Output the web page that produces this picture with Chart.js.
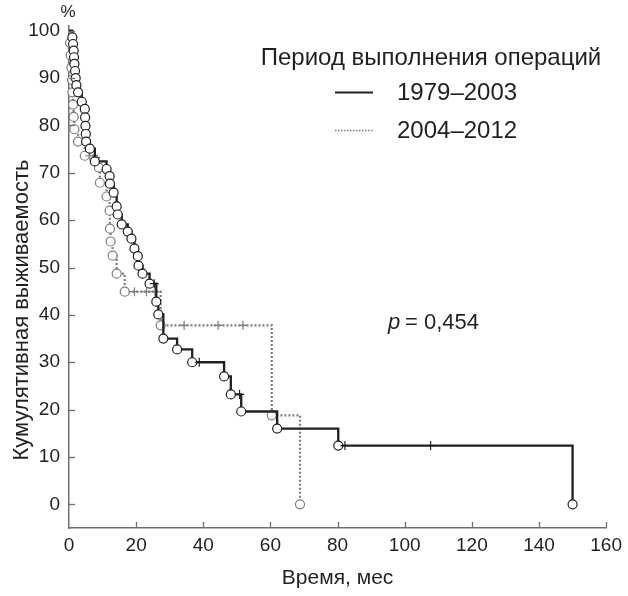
<!DOCTYPE html>
<html><head><meta charset="utf-8">
<script src="https://cdn.jsdelivr.net/npm/chart.js@4.4.1/dist/chart.umd.min.js"></script>
<style>html,body{margin:0;padding:0;background:#fff}#wrap{width:628px;height:596px;position:relative}</style>
</head><body><div id="wrap"><canvas id="c" width="628" height="596"></canvas></div>
<script>
// ---- data ----
const xTicks = [0, 20, 40, 60, 80, 100, 120, 140, 160];
const yTicks = [0, 10, 20, 30, 40, 50, 60, 70, 80, 90, 100];

const seriesNames = ['1979–2003', '2004–2012'];
const legendTitle = 'Период выполнения операций';
const yTitle = 'Кумулятивная выживаемость';
const xTitle = 'Время, мес';
const pText = '= 0,454';

// 1979–2003: event times (months) and survival (%) after each event
const solidT = [0, 1.0, 1.2, 1.4, 1.5, 1.6, 1.8, 2.0, 2.2, 2.7, 3.8, 4.7, 4.8, 4.9, 5.0, 5.1, 6.2, 7.7, 11.2, 12.1, 12.2, 13.3, 14.2, 14.5, 15.7, 17.5, 18.6, 19.5, 20.5, 20.7, 21.9, 24.0, 26.0, 26.6, 28.1, 32.2, 36.7, 46.2, 48.2, 51.3, 62.0, 80.2, 150];
const solidS = [100, 98.6, 97.2, 95.8, 94.4, 93.0, 91.5, 90.0, 88.5, 87.0, 85.0, 83.5, 81.7, 79.9, 78.2, 76.6, 75.1, 72.4, 70.8, 69.3, 67.7, 65.8, 62.9, 61.2, 59.1, 57.6, 56.1, 54.0, 52.4, 50.4, 48.7, 46.6, 42.8, 40.1, 35.0, 32.7, 30.0, 27.0, 23.2, 19.6, 16.0, 12.4, 0];
const solidCensT = [25.4, 38.8, 50.8, 82.2, 107.7];
const solidCensS = [46.6, 30.0, 23.2, 12.4, 12.4];

// 2004–2012
const greyT = [0, 0.3, 0.5, 0.7, 0.9, 1.0, 1.2, 1.4, 1.6, 2.7, 4.7, 8.9, 9.2, 11.2, 12.1, 12.2, 12.4, 13.0, 14.2, 16.6, 27.3, 60.4, 68.8];
const greyS = [100, 97.4, 94.8, 92.2, 89.6, 87.0, 84.4, 81.8, 79.2, 76.6, 73.6, 71.1, 67.9, 65.0, 62.0, 58.2, 55.5, 52.5, 48.7, 44.9, 37.8, 18.8, 0];
const greyCensT = [6.2, 19.5, 23.1, 25.6, 34.3, 44.4, 51.8];
const greyCensS = [73.6, 44.9, 44.9, 44.9, 37.8, 37.8, 37.8];

// ---- styling ----
const FONT = '"Liberation Sans", Arial, Helvetica, sans-serif';
const TEXT = '#231f20';
const BLACK = '#231f20';
const GREY = '#7d7d7d';
const AXIS = '#6d6e71';

const pts = (t, s) => t.map((v, i) => ({x: v, y: s[i]}));
const evRadius = ctx => ctx.dataIndex === 0 ? 0 : 4.5;

const annot = {
  id: 'annot',
  afterDraw(chart) {
    const {ctx, scales: {x, y}, chartArea} = chart;
    ctx.save();
    // inward tick marks
    ctx.strokeStyle = AXIS; ctx.lineWidth = 1.3;
    yTicks.forEach(v => {
      const py = Math.round(y.getPixelForValue(v)) + 0.5;
      ctx.beginPath(); ctx.moveTo(chartArea.left, py); ctx.lineTo(chartArea.left + 6, py); ctx.stroke();
    });
    xTicks.forEach(v => {
      if (v === 0) return;
      const px = Math.round(x.getPixelForValue(v)) + 0.5;
      ctx.beginPath(); ctx.moveTo(px, chartArea.bottom); ctx.lineTo(px, chartArea.bottom - 6); ctx.stroke();
    });
    ctx.fillStyle = TEXT;
    ctx.textAlign = 'center'; ctx.textBaseline = 'middle';
    // y-axis title
    ctx.save();
    ctx.translate(22, 310);
    ctx.rotate(-Math.PI / 2);
    ctx.font = '22px ' + FONT;
    ctx.fillText(yTitle, 0, 0);
    ctx.restore();
    // % sign
    ctx.font = '17px ' + FONT;
    ctx.fillText('%', chartArea.left - 1, 12);
    // legend
    ctx.font = '24px ' + FONT;
    ctx.fillText(legendTitle, 431, 58);
    ctx.textAlign = 'left';
    ctx.fillText(seriesNames[0], 397, 93);
    ctx.fillText(seriesNames[1], 397, 131);
    ctx.strokeStyle = BLACK; ctx.lineWidth = 2.2; ctx.setLineDash([]);
    ctx.beginPath(); ctx.moveTo(335, 92.5); ctx.lineTo(373, 92.5); ctx.stroke();
    ctx.strokeStyle = GREY; ctx.lineWidth = 1.3; ctx.setLineDash([1.5, 1.5]);
    ctx.beginPath(); ctx.moveTo(335, 130.5); ctx.lineTo(373, 130.5); ctx.stroke();
    ctx.setLineDash([]);
    // p-value
    ctx.font = 'italic 22px ' + FONT;
    ctx.fillText('p', 388, 323);
    ctx.font = '22px ' + FONT;
    ctx.fillText(pText, 405, 323);
    ctx.restore();
  }
};

new Chart(document.getElementById('c'), {
  type: 'scatter',
  data: {
    datasets: [
      {
        label: seriesNames[0], data: pts(solidT, solidS), showLine: true, stepped: 'before',
        borderColor: BLACK, borderWidth: 2.3, pointRadius: evRadius, pointBackgroundColor: '#fff',
        pointBorderColor: BLACK, pointBorderWidth: 1.2, order: 1, clip: false
      },
      {
        label: seriesNames[0] + ' censored', data: pts(solidCensT, solidCensS), showLine: false,
        pointStyle: 'cross', pointRadius: 4.5, borderColor: BLACK, pointBorderColor: BLACK, pointBorderWidth: 1.2, order: 0, clip: false
      },
      {
        label: seriesNames[1], data: pts(greyT, greyS), showLine: true, stepped: 'before',
        borderColor: GREY, borderWidth: 2.2, borderDash: [2, 2], pointRadius: evRadius, pointBackgroundColor: '#fff',
        pointBorderColor: GREY, pointBorderWidth: 1.2, order: 3, clip: false
      },
      {
        label: seriesNames[1] + ' censored', data: pts(greyCensT, greyCensS), showLine: false,
        pointStyle: 'cross', pointRadius: 4.5, borderColor: GREY, pointBorderColor: GREY, pointBorderWidth: 1.2, order: 2, clip: false
      }
    ]
  },
  options: {
    responsive: false, animation: false, devicePixelRatio: 1,
    layout: {padding: {left: 0, top: 26, right: 18, bottom: 0}},
    plugins: {legend: {display: false}, tooltip: {enabled: false}},
    scales: {
      x: {
        type: 'linear', min: 0, max: 160,
        afterBuildTicks: s => { s.ticks = xTicks.map(v => ({value: v})); },
        afterFit: s => { s.height = 68; },
        grid: {display: false, drawTicks: false},
        border: {display: true, color: AXIS, width: 1.5},
        ticks: {font: {family: FONT, size: 19}, color: TEXT, padding: 6, maxRotation: 0, autoSkip: false},
        title: {display: true, text: xTitle, font: {family: FONT, size: 21}, color: TEXT, padding: {top: 0, bottom: 5}}
      },
      y: {
        type: 'linear', min: -5, max: 101,
        afterBuildTicks: s => { s.ticks = yTicks.map(v => ({value: v})); },
        afterFit: s => { s.width = 69; },
        grid: {display: false, drawTicks: false},
        border: {display: true, color: AXIS, width: 1.5},
        ticks: {font: {family: FONT, size: 19}, color: TEXT, padding: 9, autoSkip: false},
        title: {display: false}
      }
    }
  },
  plugins: [annot]
});
</script>
</body></html>
